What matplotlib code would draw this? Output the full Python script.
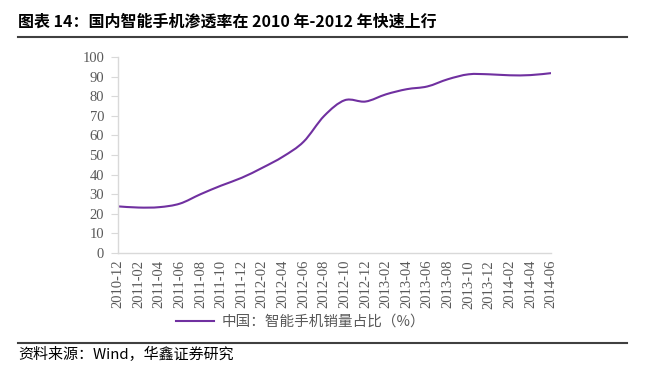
import matplotlib.pyplot as plt
from matplotlib.path import Path
from matplotlib.patches import PathPatch
from matplotlib.lines import Line2D

months = ["2010-12", "2011-02", "2011-04", "2011-06", "2011-08", "2011-10",
          "2011-12", "2012-02", "2012-04", "2012-06", "2012-08", "2012-10",
          "2012-12", "2013-02", "2013-04", "2013-06", "2013-08", "2013-10",
          "2013-12", "2014-02", "2014-04", "2014-06"]
share = [23.8, 23.2, 23.4, 25.2, 30.0, 34.4, 38.4, 43.5, 49.2, 56.8, 70.0, 78.0,
         77.3, 81.0, 83.6, 85.0, 88.7, 91.2, 91.2, 90.7, 90.8, 91.8]

title = "图表 14：国内智能手机渗透率在 2010 年-2012 年快速上行"
series_name = "中国：智能手机销量占比（%）"
source = "资料来源：Wind，华鑫证券研究"

line_color = "#7030A0"
grey = "#595959"

plt.rcParams["font.family"] = ["Noto Sans CJK SC", "DejaVu Sans"]

fig = plt.figure(figsize=(6.46, 3.73), dpi=100)
ax = fig.add_axes([0.1827, 0.3217, 0.6703, 0.5253])

# smoothed line like Excel (cubic bezier through each point)
xs = list(range(len(share)))
verts = [(xs[0], share[0])]
codes = [Path.MOVETO]
n = len(share)
for i in range(n - 1):
    p0 = (xs[max(i - 1, 0)], share[max(i - 1, 0)])
    p1 = (xs[i], share[i])
    p2 = (xs[i + 1], share[i + 1])
    p3 = (xs[min(i + 2, n - 1)], share[min(i + 2, n - 1)])
    c1 = (p1[0] + (p2[0] - p0[0]) / 6, p1[1] + (p2[1] - p0[1]) / 6)
    c2 = (p2[0] - (p3[0] - p1[0]) / 6, p2[1] - (p3[1] - p1[1]) / 6)
    verts += [c1, c2, p2]
    codes += [Path.CURVE4] * 3
ax.add_patch(PathPatch(Path(verts, codes), facecolor="none",
                       edgecolor=line_color, lw=1.5))

ax.set_xlim(0, n - 1)
ax.set_ylim(0, 100)
ax.set_yticks(range(0, 101, 10))
ax.set_xticks(xs)
ax.set_xticklabels(months, rotation=90, family="Liberation Serif",
                   fontsize=10.5, color=grey)
for lab in ax.get_yticklabels():
    lab.set_family("Liberation Serif")
    lab.set_fontsize(10.5)
    lab.set_color(grey)

for s in ["top", "right"]:
    ax.spines[s].set_visible(False)
for s in ["left", "bottom"]:
    ax.spines[s].set_color("#D9D9D9")
    ax.spines[s].set_linewidth(1)
ax.tick_params(axis="y", length=5, color="#D9D9D9", pad=5)
ax.tick_params(axis="x", length=0, pad=5)

handle = Line2D([], [], color=line_color, lw=1.5)
fig.legend([handle], [series_name], loc="center", bbox_to_anchor=(0.465, 0.137),
           frameon=False, fontsize=10.5, labelcolor=grey, handlelength=2.6,
           handletextpad=0.5)

fig.text(0.028, 0.941, title, fontsize=11.5, fontweight="bold",
         va="center", ha="left", color="black")
fig.add_artist(Line2D([0.028, 0.971], [0.901, 0.901], transform=fig.transFigure,
                      color="#404040", lw=1.5))
fig.add_artist(Line2D([0.028, 0.971], [0.080, 0.080], transform=fig.transFigure,
                      color="#404040", lw=1.5))
fig.text(0.028, 0.051, source, fontsize=10.8, va="center", ha="left",
         color="black")

fig.savefig("out.png", dpi=100)
